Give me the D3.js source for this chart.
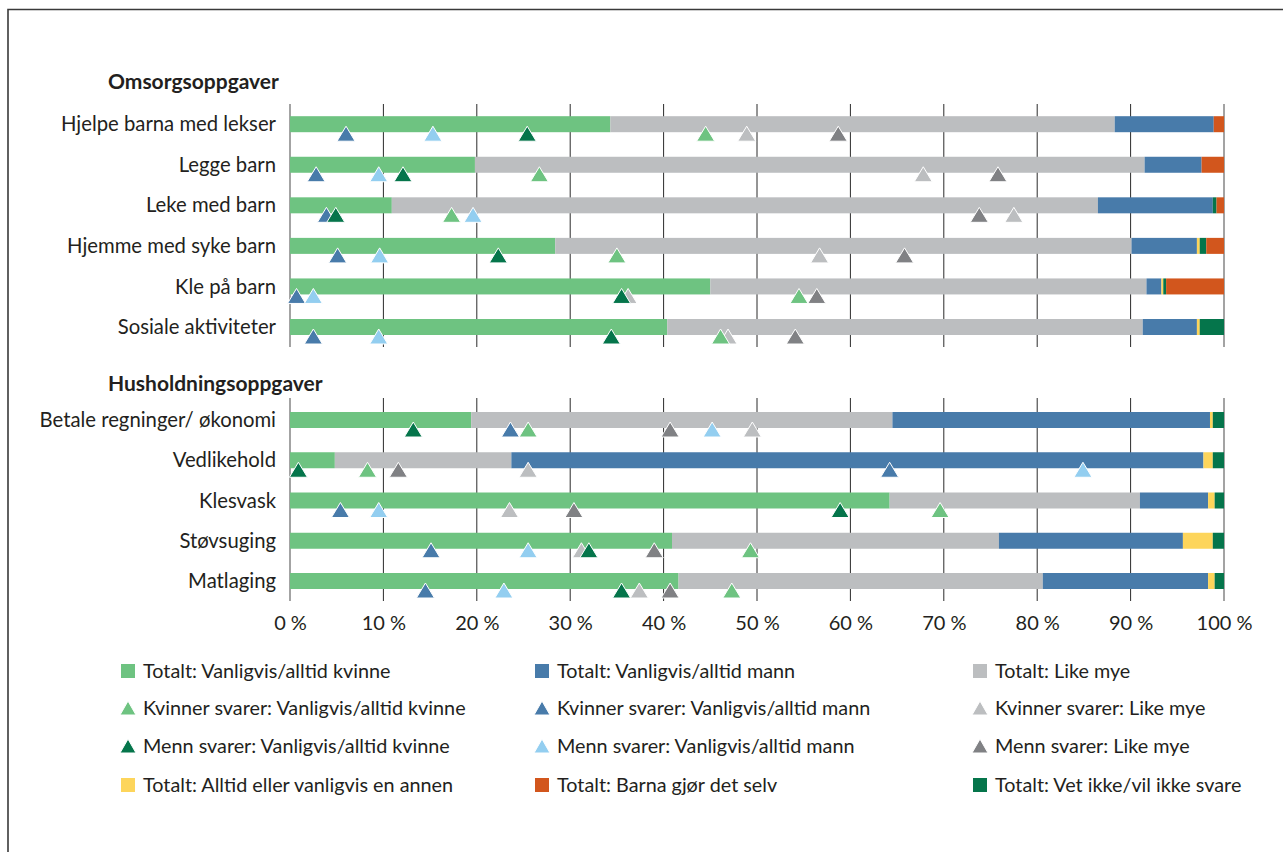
<!DOCTYPE html>
<html>
  <head>
    <meta charset="utf-8">
    <title>Omsorgs- og husholdningsoppgaver</title>
    <script src="https://cdn.jsdelivr.net/npm/d3@7"></script>
    <style>
      body { margin: 0; background: #fff; }
      #chart { display: block; font-family: Lato, "Open Sans", sans-serif; fill: #231f20; }
      .axis path, .axis line { display: none; }
      .axis text { font-family: Lato, "Open Sans", sans-serif; font-size: 20px; fill: #231f20; }
    </style>
  </head>

  <body>
    <svg id="chart" width="1283" height="852"></svg>

    <script>
      // data (percent)
      omsorgTasks = ["Hjelpe barna med lekser", "Legge barn", "Leke med barn",
        "Hjemme med syke barn", "Kle på barn", "Sosiale aktiviteter"];
      husholdTasks = ["Betale regninger/ økonomi", "Vedlikehold", "Klesvask",
        "Støvsuging", "Matlaging"];
      tasks = omsorgTasks.concat(husholdTasks);

      totalKvinne  = [34.3, 19.8, 10.9, 28.4, 45.0, 40.4, 19.4, 4.8, 64.2, 40.9, 41.6];
      totalLike    = [54.0, 71.7, 75.6, 61.7, 46.7, 50.9, 45.1, 18.9, 26.8, 35.0, 39.0];
      totalMann    = [10.6, 6.1, 12.3, 7.0, 1.6, 5.8, 34.0, 74.1, 7.3, 19.7, 17.7];
      totalAnnen   = [0, 0, 0, 0.3, 0.2, 0.3, 0.3, 1.0, 0.7, 3.2, 0.7];
      totalVetIkke = [0, 0, 0.4, 0.7, 0.3, 2.6, 1.2, 1.2, 1.0, 1.2, 1.0];
      totalBarna   = [1.1, 2.4, 0.8, 1.9, 6.2, 0, 0, 0, 0, 0, 0];

      kvinnerKvinne = [44.5, 26.7, 17.3, 35.0, 54.5, 46.1, 25.5, 8.3, 69.6, 49.3, 47.3];
      kvinnerMann   = [6.0, 2.8, 3.9, 5.1, 0.7, 2.5, 23.6, 64.2, 5.4, 15.1, 14.5];
      kvinnerLike   = [48.9, 67.8, 77.5, 56.7, 36.2, 46.9, 49.5, 25.5, 23.5, 31.2, 37.4];
      mennKvinne    = [25.4, 12.1, 4.9, 22.3, 35.5, 34.4, 13.2, 0.9, 58.9, 32.0, 35.5];
      mennMann      = [15.3, 9.5, 19.6, 9.6, 2.5, 9.5, 45.2, 84.9, 9.5, 25.5, 22.9];
      mennLike      = [58.7, 75.8, 73.8, 65.8, 56.4, 54.1, 40.7, 11.6, 30.4, 39.0, 40.7];

      xTicks = [0, 10, 20, 30, 40, 50, 60, 70, 80, 90, 100];

      // series setup
      segments = [
        { key: "kvinne", values: totalKvinne, color: "#6ec381", label: "Totalt: Vanligvis/alltid kvinne" },
        { key: "like", values: totalLike, color: "#bcbec0", label: "Totalt: Like mye" },
        { key: "mann", values: totalMann, color: "#487baa", label: "Totalt: Vanligvis/alltid mann" },
        { key: "annen", values: totalAnnen, color: "#fdd55b", label: "Totalt: Alltid eller vanligvis en annen" },
        { key: "vetIkke", values: totalVetIkke, color: "#05754b", label: "Totalt: Vet ikke/vil ikke svare" },
        { key: "barna", values: totalBarna, color: "#d2561d", label: "Totalt: Barna gjør det selv" }
      ];
      markers = [
        { values: kvinnerLike, color: "#bcbec0", label: "Kvinner svarer: Like mye" },
        { values: kvinnerMann, color: "#487baa", label: "Kvinner svarer: Vanligvis/alltid mann" },
        { values: mennLike, color: "#808184", label: "Menn svarer: Like mye" },
        { values: mennMann, color: "#93cef0", label: "Menn svarer: Vanligvis/alltid mann" },
        { values: kvinnerKvinne, color: "#6ec381", label: "Kvinner svarer: Vanligvis/alltid kvinne" },
        { values: mennKvinne, color: "#05754b", label: "Menn svarer: Vanligvis/alltid kvinne" }
      ];

      chart = d3.select("#chart");

      // frame
      chart.append("path")
        .attr("d", "M8,852V9.5H1283")
        .attr("fill", "none")
        .attr("stroke", "#3a3a3a")
        .attr("stroke-width", 1.6);

      // scales
      x = d3.scaleLinear().domain([0, 100]).range([290, 1224]);
      sections = [
        { title: "Omsorgsoppgaver", tasks: omsorgTasks, titleY: 89, range: [124.2, 327], grid: [104, 347] },
        { title: "Husholdningsoppgaver", tasks: husholdTasks, titleY: 391, range: [420, 581], grid: [398, 601] }
      ];
      sections.forEach(s => {
        s.y = d3.scalePoint().domain(s.tasks).range(s.range);
      });
      yOf = t => {
        let s = sections.find(s => s.tasks.includes(t));
        return s.y(t);
      };

      // gridlines
      sections.forEach(s => {
        chart.append("g")
          .selectAll("line")
          .data(xTicks)
          .join("line")
          .attr("x1", d => x(d))
          .attr("x2", d => x(d))
          .attr("y1", s.grid[0])
          .attr("y2", s.grid[1])
          .attr("stroke", d => d == 0 || d == 100 ? "#8c8c8c" : "#2b2b2b")
          .attr("stroke-width", d => d == 0 || d == 100 ? 1.6 : 1);

        chart.append("text")
          .attr("x", 108)
          .attr("y", s.titleY)
          .attr("font-size", 21)
          .attr("font-weight", "bold")
          .text(s.title);
      });

      // category labels
      chart.append("g")
        .selectAll("text")
        .data(tasks)
        .join("text")
        .attr("x", 276)
        .attr("y", d => yOf(d))
        .attr("dy", "0.35em")
        .attr("text-anchor", "end")
        .attr("font-size", 20.3)
        .text(d => d);

      // stacked bars
      rows = tasks.map((t, i) => {
        let row = { task: t };
        segments.forEach(s => row[s.key] = s.values[i]);
        return row;
      });
      stack = d3.stack().keys(segments.map(s => s.key));
      barHeight = 16;
      chart.append("g")
        .selectAll("g")
        .data(stack(rows))
        .join("g")
        .attr("fill", (d, i) => segments[i].color)
        .selectAll("rect")
        .data(d => d.filter(p => p[1] > p[0]))
        .join("rect")
        .attr("x", d => x(d[0]))
        .attr("width", d => x(d[1]) - x(d[0]))
        .attr("y", d => yOf(d.data.task) - barHeight / 2)
        .attr("height", barHeight);

      // triangle markers
      triangle = "M0,0L9,15L-9,15Z";
      markers.forEach(m => {
        chart.append("g")
          .selectAll("path")
          .data(tasks)
          .join("path")
          .attr("d", triangle)
          .attr("transform", (d, i) => "translate(" + x(m.values[i]) + "," + (yOf(d) + 2) + ")")
          .attr("fill", m.color)
          .attr("stroke", "#fff")
          .attr("stroke-width", 1);
      });

      // x axis labels
      xAxis = d3.axisBottom(x)
        .tickValues(xTicks)
        .tickFormat(d => d + " %")
        .tickSize(0)
        .tickPadding(15);
      chart.append("g")
        .attr("class", "axis")
        .attr("transform", "translate(0, 601)")
        .call(xAxis);

      // legend
      legendItems = [
        [segments[0], "square"], [segments[2], "square"], [segments[1], "square"],
        [markers[4], "triangle"], [markers[1], "triangle"], [markers[0], "triangle"],
        [markers[5], "triangle"], [markers[3], "triangle"], [markers[2], "triangle"],
        [segments[3], "square"], [segments[5], "square"], [segments[4], "square"]
      ];
      legendCols = [128, 542, 980];
      legendRows = [671, 708, 746, 785];
      legend = chart.append("g")
        .selectAll("g")
        .data(legendItems)
        .join("g")
        .attr("transform", (d, i) => "translate(" + legendCols[i % 3] + "," + legendRows[Math.floor(i / 3)] + ")");
      legend.filter(d => d[1] == "square")
        .append("rect")
        .attr("x", -7)
        .attr("y", -7)
        .attr("width", 14)
        .attr("height", 14)
        .attr("fill", d => d[0].color);
      legend.filter(d => d[1] == "triangle")
        .append("path")
        .attr("d", "M0,-7L8,7L-8,7Z")
        .attr("fill", d => d[0].color)
        .attr("stroke", "#fff")
        .attr("stroke-width", 1);
      legend.append("text")
        .attr("x", 15)
        .attr("dy", "0.35em")
        .attr("font-size", 19.8)
        .text(d => d[0].label);
    </script>
  </body>
</html>
